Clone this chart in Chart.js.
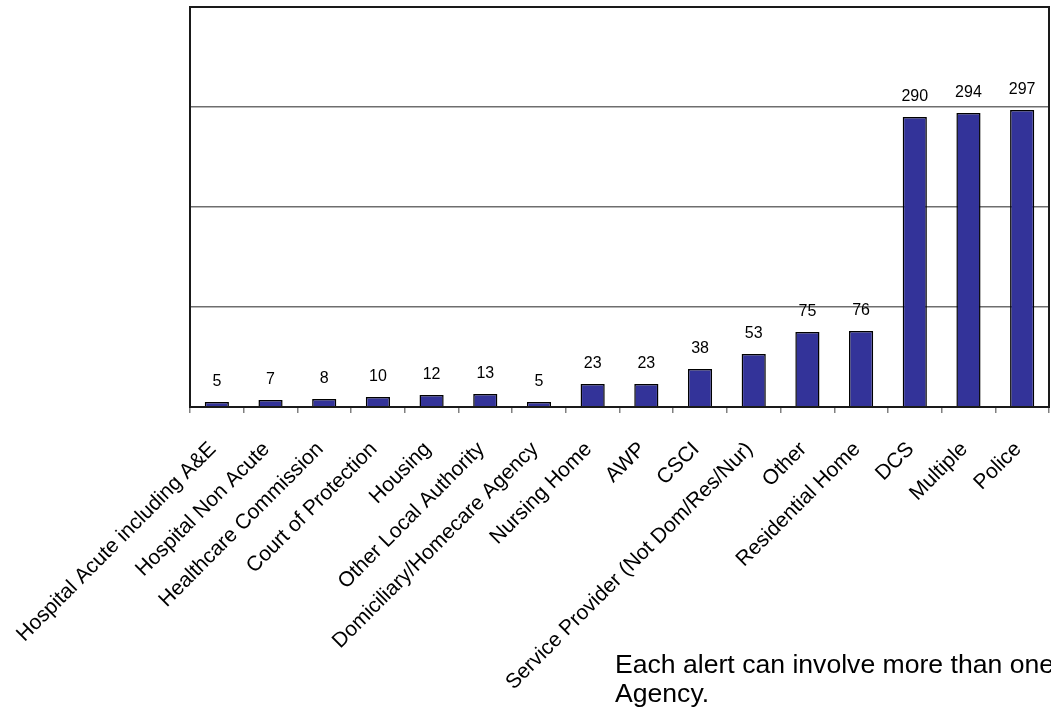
<!DOCTYPE html>
<html>
<head>
<meta charset="utf-8">
<script src="https://cdn.jsdelivr.net/npm/chart.js@4.4.1/dist/chart.umd.min.js"></script>
<style>
  html, body { margin: 0; padding: 0; background: #fff; overflow: hidden; }
  #wrap { position: relative; width: 1051px; height: 713px; }
  #note {
    position: absolute; left: 615px; top: 650px; width: 470px;
    font-family: Arial, "Liberation Sans", sans-serif; font-size: 26.6px; line-height: 29px;
    color: #000; white-space: normal;
  }
</style>
</head>
<body>
<div id="wrap">
  <canvas id="myChart" width="1051" height="713"></canvas>
  <div id="note">Each alert can involve more than one Agency.</div>
</div>
<script>
const agencias = [
  "Hospital Acute including A&E",
  "Hospital Non Acute",
  "Healthcare Commission",
  "Court of Protection",
  "Housing",
  "Other Local Authority",
  "Domiciliary/Homecare Agency",
  "Nursing Home",
  "AWP",
  "CSCI",
  "Service Provider (Not Dom/Res/Nur)",
  "Other",
  "Residential Home",
  "DCS",
  "Multiple",
  "Police"
];
const alertas = [5, 7, 8, 10, 12, 13, 5, 23, 23, 38, 53, 75, 76, 290, 294, 297];
const lineasY = [0, 100, 200, 300, 400];

// numeros encima de cada barra
const etiquetas = {
  id: "etiquetas",
  afterDatasetsDraw(chart) {
    const ctx = chart.ctx;
    const meta = chart.getDatasetMeta(0);
    ctx.save();
    ctx.font = "16px Arial, 'Liberation Sans', sans-serif";
    ctx.fillStyle = "#000";
    ctx.textAlign = "center";
    ctx.textBaseline = "alphabetic";
    meta.data.forEach((bar, i) => {
      ctx.fillText(String(alertas[i]), bar.x, bar.y - 16);
    });
    ctx.restore();
  }
};

// marco del area del grafico
const marco = {
  id: "marco",
  afterDraw(chart) {
    const a = chart.chartArea;
    const ctx = chart.ctx;
    ctx.save();
    ctx.strokeStyle = "#1a1a1a";
    ctx.lineWidth = 2;
    ctx.strokeRect(a.left, a.top, a.right - a.left, a.bottom - a.top);
    ctx.restore();
  }
};

const data = {
  labels: agencias,
  datasets: [{
    label: "Alertas",
    data: alertas,
    backgroundColor: "#333399",
    borderColor: "#000",
    borderWidth: 1.5,
    barPercentage: 0.45,
    categoryPercentage: 1
  }]
};

const config = {
  type: "bar",
  data: data,
  options: {
    responsive: false,
    animation: false,
    layout: { padding: { top: 7, right: 2, left: 0, bottom: 0 } },
    plugins: { legend: { display: false }, tooltip: { enabled: false } },
    scales: {
      x: {
        afterFit: (scale) => {
          scale.height = 306;
          scale.paddingLeft = 0;
          scale.paddingRight = 0;
        },
        border: { display: false },
        grid: {
          offset: true,
          drawOnChartArea: false,
          drawTicks: true,
          tickLength: 6,
          color: "#808080",
          lineWidth: 1.5
        },
        ticks: {
          autoSkip: false,
          minRotation: 45,
          maxRotation: 45,
          padding: 24,
          labelOffset: -4,
          color: "#000",
          font: { family: "Arial, 'Liberation Sans', sans-serif", size: 21 }
        }
      },
      y: {
        min: lineasY[0],
        max: lineasY[lineasY.length - 1],
        afterFit: (scale) => { scale.width = 190; },
        border: { display: false },
        grid: { color: "#6e6e6e", lineWidth: 1.6, drawTicks: false },
        ticks: { display: false, stepSize: 100 }
      }
    }
  },
  plugins: [etiquetas, marco]
};

const myChart = new Chart(document.getElementById("myChart"), config);
</script>
</body>
</html>
